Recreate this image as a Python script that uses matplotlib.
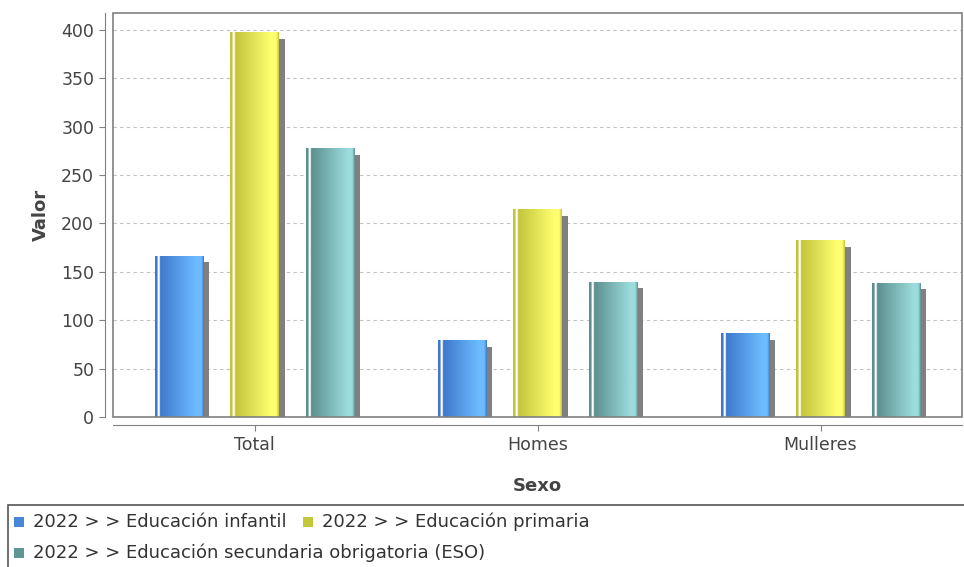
import matplotlib
matplotlib.use("Agg")
import matplotlib.pyplot as plt
import numpy as np
from matplotlib.colors import LinearSegmentedColormap
from matplotlib.patches import Rectangle

# data
categories = ["Total", "Homes", "Mulleres"]
series_names = ["2022 > > Educación infantil",
                "2022 > > Educación primaria",
                "2022 > > Educación secundaria obrigatoria (ESO)"]
infantil = [166, 79, 86]
primaria = [397, 214, 182]
eso = [277, 139, 138]
values = [infantil, primaria, eso]

# (dark, light, legend) colours per series
palette = [("#3f78cc", "#6cbcff", "#4a86d8"),
           ("#c4c43c", "#ffff70", "#c2c83a"),
           ("#5c8f8f", "#9cdcdc", "#5e9696")]

W, H = 964, 567
fig = plt.figure(figsize=(W / 100, H / 100), dpi=100)
ax = fig.add_axes([113 / W, (H - 417) / H, 849 / W, 404 / H])

ymax = 417.5
x = np.arange(len(categories))
bw = 0.17
off = 0.267
px_x = 3.0 / 849        # data units per pixel on x
px_y = ymax / 404       # data units per pixel on y


def bar_cmap(dark, light):
    return LinearSegmentedColormap.from_list(
        "g", [(0.0, dark), (0.045, dark), (0.05, "#ffffff"), (0.09, "#ffffff"),
              (0.10, dark), (0.85, light), (0.95, light), (1.0, dark)])


grad = np.linspace(0, 1, 200).reshape(1, -1)
for i, vals in enumerate(values):
    dark, light, _ = palette[i]
    cm = bar_cmap(dark, light)
    for j, v in enumerate(vals):
        x0 = x[j] + (i - 1) * off - bw / 2
        # shadow
        ax.add_patch(Rectangle((x0 + 6 * px_x, 0), bw, v - 6 * px_y,
                               facecolor="#808080", edgecolor="none", zorder=2))
        ax.imshow(grad, cmap=cm, extent=(x0, x0 + bw, 0, v), aspect="auto",
                  interpolation="bilinear", zorder=3)

ax.set_xlim(-0.5, 2.5)
ax.set_ylim(0, ymax)
ax.set_yticks(np.arange(0, 401, 50))
ax.set_xticks(x)
ax.set_xticklabels(categories)
ax.yaxis.grid(True, linestyle=(0, (3, 3)), color="#c0c0c0", linewidth=0.8)
ax.set_axisbelow(True)

for s in ["top", "right"]:
    ax.spines[s].set_visible(False)
for s in ["left", "bottom"]:
    ax.spines[s].set_position(("outward", 6))
    ax.spines[s].set_color("#808080")
ax.add_patch(Rectangle((0, 0), 1, 1, transform=ax.transAxes, fill=False,
                       edgecolor="#808080", linewidth=1.2, clip_on=False, zorder=5))
ax.tick_params(colors="#808080", labelcolor="#444444", labelsize=12.5, length=4)

ax.set_ylabel("Valor", fontsize=13, fontweight="bold", color="#444444", labelpad=8)
ax.set_xlabel("Sexo", fontsize=13, fontweight="bold", color="#444444", labelpad=17)

# legend box
fig.patches.append(Rectangle((8 / W, -0.05), 1.0, (H - 505) / H + 0.05,
                             transform=fig.transFigure, fill=False,
                             edgecolor="#555555", linewidth=1.2))
leg_pos = [(14, 522), (303, 522), (14, 553)]
for i, (lx, ly) in enumerate(leg_pos):
    fig.patches.append(Rectangle((lx / W, (H - ly - 5) / H), 10 / W, 10 / H,
                                 transform=fig.transFigure,
                                 facecolor=palette[i][2], edgecolor="none"))
    fig.text((lx + 19) / W, (H - ly) / H, series_names[i], fontsize=13,
             color="#333333", va="center", ha="left")

fig.savefig("out.png", dpi=100)
